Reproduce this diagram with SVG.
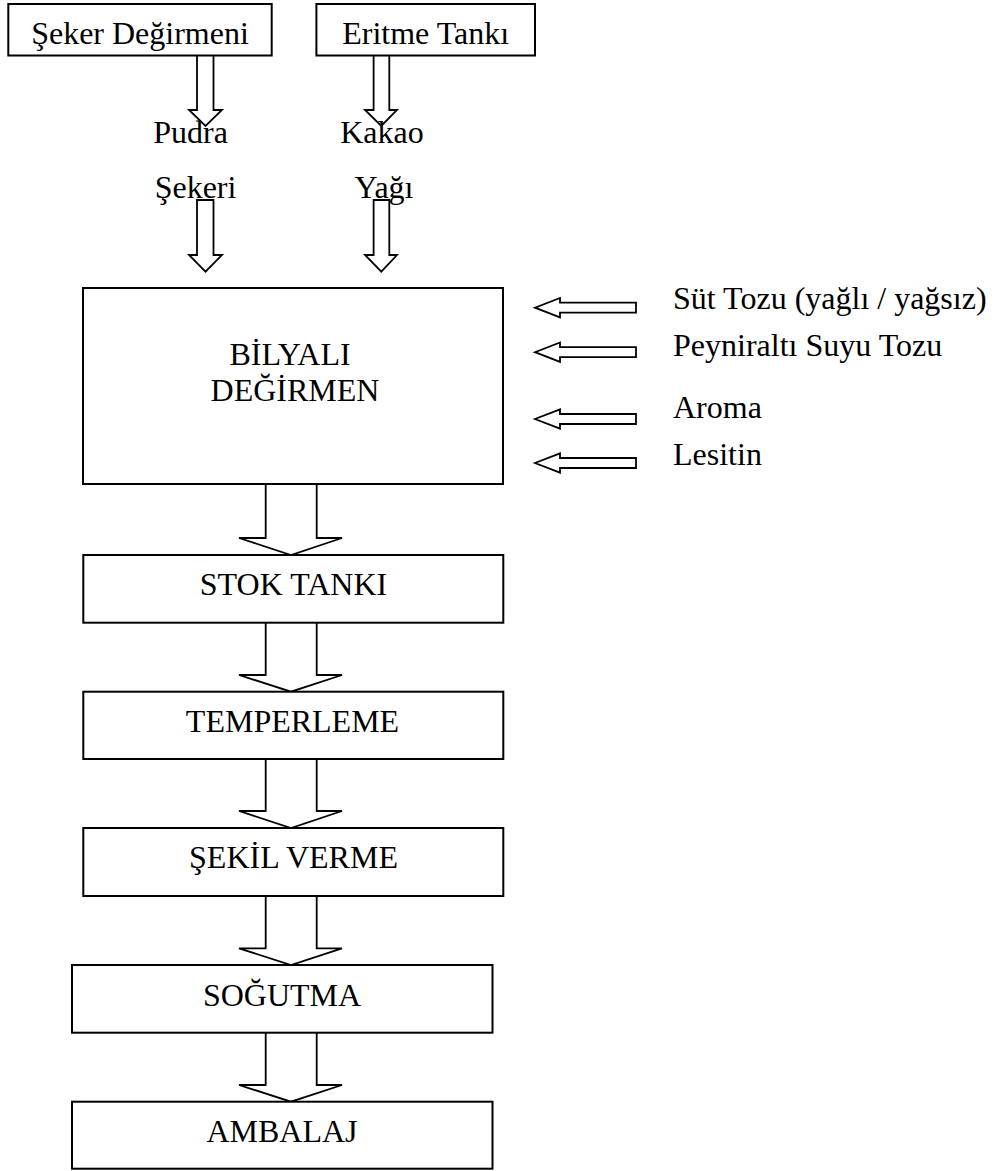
<svg xmlns="http://www.w3.org/2000/svg" width="994" height="1171" viewBox="0 0 994 1171">
<style>
.box{fill:#fff;stroke:#000;stroke-width:2}
.arr{fill:none;stroke:#000;stroke-width:1.8;stroke-linejoin:miter}
text{font-family:"Liberation Serif","Times New Roman",serif;font-size:32px;fill:#000}
.c{text-anchor:middle}
</style>
<rect width="994" height="1171" fill="#fff"/>
<g id="connectors">
<path class="arr" d="M197 56 V110 H189 L205.5 126 L222 110 H213.5 V56"/>
<path class="arr" d="M373.6 56 V110 H365 L381.3 126 L397 110 H389.3 V56"/>
<path class="arr" d="M197 200 V255 H189 L205.5 271.7 L222 255 H213.5 V200 Z"/>
<path class="arr" d="M373.6 200 V255 H365 L381.3 271.7 L397 255 H389.3 V200 Z"/>
<path class="arr" d="M636 302.7 H560 V298 L535 307.7 L560 317.4 V312.7 H636 Z"/>
<path class="arr" d="M636 347.2 H560 V342.5 L535 352.2 L560 361.9 V357.2 H636 Z"/>
<path class="arr" d="M636 414 H560 V409.3 L535 419 L560 428.7 V424 H636 Z"/>
<path class="arr" d="M636 458 H560 V453.3 L535 463 L560 472.7 V468 H636 Z"/>
<path class="arr" d="M265.7 484 V538 H239 L291 555 L342 538 H316.7 V484"/>
<path class="arr" d="M265.7 622.7 V675 H239 L291 691.7 L342 675 H316.7 V622.7"/>
<path class="arr" d="M265.7 759 V811 H239 L291 828 L342 811 H316.7 V759"/>
<path class="arr" d="M265.7 896 V948.3 H239 L291 965 L342 948.3 H316.7 V896"/>
<path class="arr" d="M265.7 1032.7 V1085 H239 L291 1101.7 L342 1085 H316.7 V1032.7"/>
</g>
<g id="seker">
<rect class="box" x="8.3" y="4" width="263.4" height="51.5"/>
<text class="c" x="140" y="44">Şeker Değirmeni</text>
</g>
<g id="eritme">
<rect class="box" x="316.4" y="4" width="218.6" height="51.5"/>
<text class="c" x="425.7" y="43.5">Eritme Tankı</text>
</g>
<g id="pudra">
<text class="c" x="190.5" y="143">Pudra</text>
<text class="c" x="195.5" y="198">Şekeri</text>
</g>
<g id="kakao">
<text class="c" x="382" y="143">Kakao</text>
<text class="c" x="384" y="198">Yağı</text>
</g>
<g id="bilyali">
<rect class="box" x="83" y="288" width="420" height="196"/>
<text class="c" x="290" y="365">BİLYALI</text>
<text class="c" x="295" y="400.7">DEĞİRMEN</text>
</g>
<g id="inputs">
<text x="673" y="309.3">Süt Tozu (yağlı / yağsız)</text>
<text x="673" y="356">Peyniraltı Suyu Tozu</text>
<text x="673" y="418.3">Aroma</text>
<text x="673" y="465">Lesitin</text>
</g>
<g id="stok">
<rect class="box" x="83.3" y="555" width="420" height="67.7"/>
<text class="c" x="293.5" y="595">STOK TANKI</text>
</g>
<g id="temperleme">
<rect class="box" x="83.3" y="691.7" width="420" height="67.3"/>
<text class="c" x="292.5" y="732">TEMPERLEME</text>
</g>
<g id="sekil">
<rect class="box" x="83.3" y="828" width="420" height="68"/>
<text class="c" x="293.5" y="868.3">ŞEKİL VERME</text>
</g>
<g id="sogutma">
<rect class="box" x="72" y="965" width="420.5" height="67.7"/>
<text class="c" x="282" y="1006">SOĞUTMA</text>
</g>
<g id="ambalaj">
<rect class="box" x="72" y="1101.7" width="420.5" height="67"/>
<text class="c" x="282" y="1141.7">AMBALAJ</text>
</g>
</svg>
